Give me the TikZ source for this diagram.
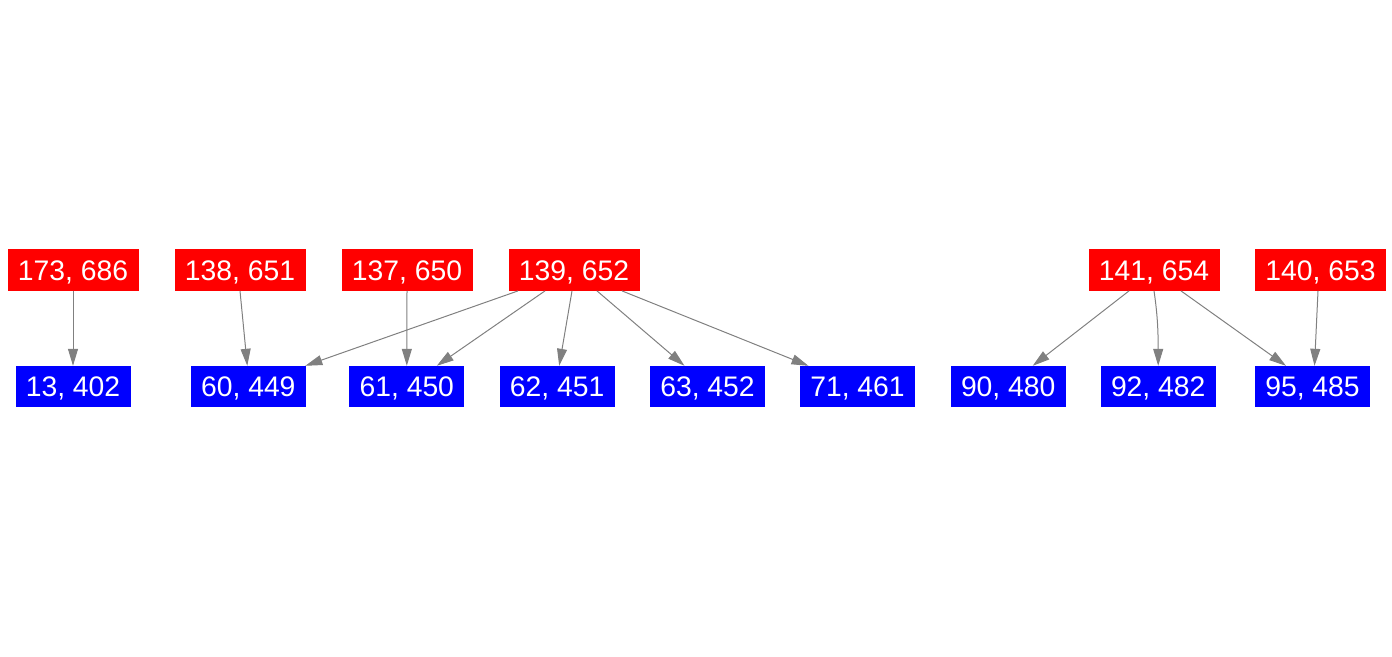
\documentclass[tikz,border=0pt]{standalone}
\usepackage{fontspec}
\setmainfont{Liberation Sans}
\usetikzlibrary{arrows.meta}
\definecolor{edgegray}{HTML}{808080}
\tikzset{
  src/.style={fill={rgb,255:red,255;green,0;blue,0}, text=white, minimum width=131pt, minimum height=41.4pt, inner sep=0pt, text height=20.4pt, text depth=0pt, font=\fontsize{28.3}{30}\selectfont},
  dst/.style={fill={rgb,255:red,0;green,0;blue,255}, text=white, minimum width=115pt, minimum height=41.4pt, inner sep=0pt, text height=20.4pt, text depth=0pt, font=\fontsize{28.3}{30}\selectfont},
  edge/.style={draw=edgegray, line width=1pt, -{Triangle[length=17pt,width=10pt]}, fill=none},
}
\begin{document}
\begin{tikzpicture}[x=1pt,y=-1pt]
\useasboundingbox (0,0) rectangle (1392,656);
% red nodes
\node[src] (r173) at (73,270) {173, 686};
\node[src] (r138) at (240,270) {138, 651};
\node[src] (r137) at (407,270) {137, 650};
\node[src] (r139) at (574,270) {139, 652};
\node[src] (r141) at (1154,270) {141, 654};
\node[src] (r140) at (1320.5,270) {140, 653};
% blue nodes
\node[dst] (b13) at (73,386.7) {13, 402};
\node[dst] (b60) at (248.3,386.7) {60, 449};
\node[dst] (b61) at (406.8,386.7) {61, 450};
\node[dst] (b62) at (557.2,386.7) {62, 451};
\node[dst] (b63) at (707.5,386.7) {63, 452};
\node[dst] (b71) at (857.5,386.7) {71, 461};
\node[dst] (b90) at (1008.2,386.7) {90, 480};
\node[dst] (b92) at (1158.2,386.7) {92, 482};
\node[dst] (b95) at (1312.5,386.7) {95, 485};
% edges
\draw[edge] (r173.south) -- (b13.north);
\draw[edge] (r138.south) -- ([xshift=-1pt]b60.north);
\draw[edge] (r137.south) -- (b61.north);
\draw[edge] ([xshift=-56pt]r139.south) -- ([xshift=57pt]b60.north);
\draw[edge] ([xshift=-29pt]r139.south) -- ([xshift=30pt]b61.north);
\draw[edge] ([xshift=-2pt]r139.south) -- ([xshift=2pt]b62.north);
\draw[edge] ([xshift=23pt]r139.south) -- ([xshift=-23pt]b63.north);
\draw[edge] ([xshift=48pt]r139.south) -- ([xshift=-49pt]b71.north);
\draw[edge] ([xshift=-25pt]r141.south) -- ([xshift=24.5pt]b90.north);
\draw[edge] (r141.south) .. controls ([xshift=3pt,yshift=-20pt]r141.south) and ([yshift=38pt]b92.north) .. (b92.north);
\draw[edge] ([xshift=27pt]r141.south) -- ([xshift=-26.5pt]b95.north);
\draw[edge] ([xshift=-2.5pt]r140.south) -- ([xshift=2pt]b95.north);
\end{tikzpicture}
\end{document}
